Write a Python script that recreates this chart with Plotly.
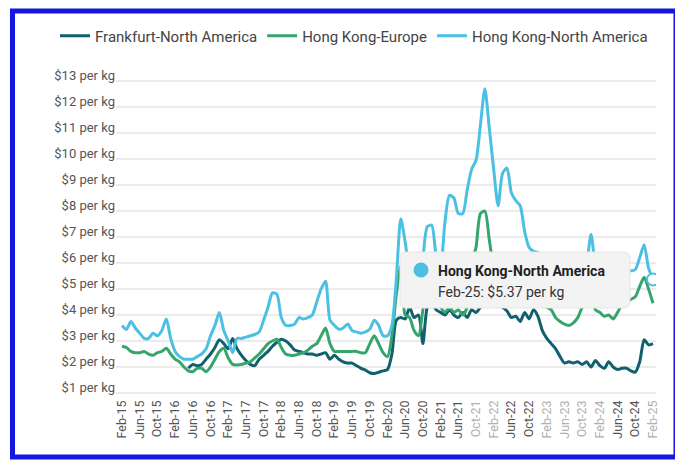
import plotly.graph_objects as go

# ---- categories (monthly, Feb-15 .. Feb-25) ----
MONTHS = ["Jan", "Feb", "Mar", "Apr", "May", "Jun", "Jul", "Aug", "Sep", "Oct", "Nov", "Dec"]
months = []
for yr in range(2015, 2026):
    for mi, mn in enumerate(MONTHS):
        if (yr == 2015 and mi < 1) or (yr == 2025 and mi > 1):
            continue
        months.append(f"{mn}-{yr % 100:02d}")

# ---- series values ($ per kg) ----
frankfurt_na = [None] * 15 + [
    1.95, 2.1, 2.05, 2.1, 2.3, 2.5, 2.75, 3.05, 2.9,            # May-16 .. Jan-17
    2.7, 3.1, 2.7, 2.45, 2.25, 2.1, 2.05, 2.3, 2.45, 2.6, 2.8, 2.95,   # 2017
    3.07, 3.0, 2.85, 2.65, 2.6, 2.55, 2.5, 2.5, 2.45, 2.5, 2.55, 2.3,  # 2018
    2.45, 2.3, 2.2, 2.15, 2.15, 2.05, 1.95, 1.88, 1.78, 1.75, 1.8, 1.85,  # 2019
    1.9, 2.5, 3.8, 3.9, 3.85, 4.3, 3.9, 4.0, 2.9, 4.3, 4.5, 4.2,       # 2020
    4.1, 4.0, 4.2, 4.0, 3.9, 4.1, 3.9, 4.2, 4.1, 4.3, 4.5, 4.6,        # 2021
    4.5, 4.4, 4.3, 4.15, 3.9, 3.95, 3.75, 4.1, 3.85, 4.2, 3.95, 3.4,   # 2022
    3.1, 2.9, 2.7, 2.4, 2.15, 2.2, 2.15, 2.2, 2.1, 2.2, 2.0, 2.25,     # 2023
    2.05, 1.95, 2.2, 2.0, 1.9, 1.95, 1.95, 1.85, 1.8, 2.2, 3.05, 2.85,  # 2024
    2.9,                                                               # Feb-25
]

hongkong_europe = [
    2.8, 2.75, 2.6, 2.55, 2.55, 2.6, 2.5, 2.45, 2.55, 2.6, 2.72,       # Feb-15 .. Dec-15
    2.5, 2.3, 2.2, 2.0, 1.85, 1.82, 1.95, 1.95, 1.82, 2.0, 2.3, 2.6,   # 2016
    2.72, 2.35, 2.1, 2.08, 2.1, 2.15, 2.2, 2.35, 2.5, 2.7, 2.9, 3.0,   # 2017
    3.07, 2.75, 2.5, 2.45, 2.45, 2.5, 2.55, 2.65, 2.8, 2.9, 3.2, 3.5,  # 2018
    2.9, 2.6, 2.6, 2.6, 2.6, 2.6, 2.6, 2.55, 2.55, 2.9, 3.2, 2.9,      # 2019
    2.55, 2.4, 3.2, 4.8, 5.9, 4.0, 3.9, 3.4, 3.2, 4.2, 5.2, 5.0,       # 2020
    4.6, 4.3, 4.1, 4.3, 4.1, 4.2, 4.0, 4.3, 6.0, 6.6, 7.9, 8.0,        # 2021
    6.9, 5.8, 5.2, 4.8, 4.6, 4.8, 4.7, 4.7, 4.6, 4.5, 4.4, 4.5,        # 2022
    4.4, 4.3, 4.2, 3.9, 3.75, 3.65, 3.6, 3.7, 3.9, 4.3, 4.6, 4.8,      # 2023
    4.2, 4.1, 3.95, 4.0, 3.85, 4.1, 4.4, 4.5, 4.6, 4.7, 5.1, 5.45,     # 2024
    5.0, 4.45,                                                         # 2025
]

hongkong_na = [
    3.6, 3.45, 3.75, 3.5, 3.3, 3.1, 3.1, 3.3, 3.2, 3.4, 3.85,          # Feb-15 .. Dec-15
    3.1, 2.6, 2.4, 2.3, 2.3, 2.3, 2.4, 2.5, 2.7, 3.2, 3.6, 4.1,        # 2016
    3.4, 3.0, 2.55, 3.1, 3.1, 3.15, 3.2, 3.25, 3.35, 3.8, 4.3, 4.85,   # 2017
    4.8, 3.9, 3.6, 3.6, 3.65, 3.9, 3.85, 3.9, 4.0, 4.5, 5.0, 5.3,      # 2018
    3.8, 3.6, 3.45, 3.5, 3.65, 3.4, 3.35, 3.3, 3.35, 3.45, 3.8, 3.6,   # 2019
    3.2, 3.2, 3.6, 5.4, 7.7, 6.8, 5.6, 5.0, 5.3, 6.2, 7.4, 7.45,       # 2020
    6.3, 6.0, 7.6, 8.6, 8.5, 7.9, 7.9, 8.8, 9.6, 9.95, 11.3, 12.7,     # 2021
    11.2, 9.6, 8.2, 9.45, 9.65, 8.7, 8.4, 8.2, 7.2, 6.6, 6.45, 6.4,    # 2022
    6.2, 5.8, 5.6, 5.5, 5.4, 5.3, 5.3, 5.4, 5.5, 5.6, 6.0, 7.1,        # 2023
    5.9, 5.5, 5.6, 5.5, 5.6, 5.7, 5.8, 5.8, 5.7, 5.75, 6.2, 6.7,       # 2024
    5.8, 5.37,                                                         # 2025
]

series_names = ["Frankfurt-North America", "Hong Kong-Europe", "Hong Kong-North America"]
series_values = [frankfurt_na, hongkong_europe, hongkong_na]
series_colors = ["#10606e", "#36a56b", "#4cc0e2"]

tick_labels = months[::4]
faded_ticks = ["Oct-21", "Feb-22", "Feb-23", "Jun-23", "Oct-23", "Feb-24", "Feb-25"]
tick_text = [
    f'<span style="color:#b0b0b0">{t}</span>' if t in faded_ticks else t
    for t in tick_labels
]

tooltip_series = "Hong Kong-North America"
tooltip_label = f"{months[-1]}: ${hongkong_na[-1]:.2f} per kg"

FONT = "Roboto, Arial, sans-serif"

fig = go.Figure()
for name, vals, col in zip(series_names, series_values, series_colors):
    fig.add_trace(go.Scatter(
        x=months, y=vals, name=name, mode="lines",
        line=dict(color=col, width=3, shape="spline", smoothing=0.7),
        connectgaps=False, hoverinfo="skip",
    ))

# highlighted (hovered) point
fig.add_trace(go.Scatter(
    x=[months[-1]], y=[hongkong_na[-1]], mode="markers", showlegend=False,
    marker=dict(size=12, color="white", line=dict(color=series_colors[2], width=2)),
    hoverinfo="skip",
))

# page body has an 8px default margin -> figure is offset by 8px
OFF = 8
W, H = 683 - OFF, 461 - OFF
PL, PR, PT, PB = 116, 656, 75, 397          # plot area in page pixels
L, R, T, B = PL - OFF, 683 - PR, PT - OFF, 461 - PB
pw, ph = PR - PL, PB - PT

def px_x(p):
    return (p - PL) / pw

def px_y(p):
    return (PB - p) / ph

# tooltip box (rounded rect, pixel-sized, anchored in paper coords)
bx0, by0, bw, bh, r = 400, 252, 230, 56, 6
path = (f"M {r},0 H {bw - r} Q {bw},0 {bw},{r} V {bh - r} Q {bw},{bh} {bw - r},{bh} "
        f"H {r} Q 0,{bh} 0,{bh - r} V {r} Q 0,0 {r},0 Z")
shapes = [
    dict(type="path", xref="paper", yref="paper", xsizemode="pixel", ysizemode="pixel",
         xanchor=px_x(bx0), yanchor=px_y(by0 + bh), path=path,
         fillcolor="#f3f3f3", line=dict(color="#e4e4e4", width=1), layer="above"),
    dict(type="circle", xref="paper", yref="paper", xsizemode="pixel", ysizemode="pixel",
         xanchor=px_x(421), yanchor=px_y(270), x0=-7.5, x1=7.5, y0=-7.5, y1=7.5,
         fillcolor=series_colors[2], line=dict(width=0), layer="above"),
    # blue outer frame
    dict(type="rect", xref="paper", yref="paper",
         x0=px_x(12.5), x1=px_x(676), y0=px_y(457), y1=px_y(11),
         line=dict(color="#1616e2", width=5), fillcolor="rgba(0,0,0,0)", layer="above"),
]

annotations = [
    dict(xref="paper", yref="paper", x=px_x(436), y=px_y(271), xanchor="left", yanchor="middle",
         text=f"<b>{tooltip_series}</b>", showarrow=False,
         font=dict(family=FONT, size=14, color="#1f1f1f")),
    dict(xref="paper", yref="paper", x=px_x(436), y=px_y(292), xanchor="left", yanchor="middle",
         text=tooltip_label, showarrow=False,
         font=dict(family=FONT, size=14, color="#333333")),
]

fig.update_layout(
    width=W, height=H,
    margin=dict(l=L, r=R, t=T, b=B, pad=0, autoexpand=False),
    paper_bgcolor="white", plot_bgcolor="white",
    font=dict(family=FONT, color="#555555"),
    showlegend=True,
    legend=dict(orientation="h", xref="paper", yref="paper",
                x=px_x(55), xanchor="left", y=px_y(36), yanchor="middle",
                font=dict(family=FONT, size=15, color="#444444"),
                bgcolor="rgba(0,0,0,0)", itemwidth=30, tracegroupgap=0),
    hovermode=False,
    shapes=shapes,
    annotations=annotations,
    xaxis=dict(
        type="category", range=[-1.36, len(months) - 1 + 0.68], automargin=False,
        tickmode="array", tickvals=tick_labels, ticktext=tick_text,
        tickangle=-90, showgrid=False, showline=False, zeroline=False, ticks="",
        tickfont=dict(family=FONT, size=12.5, color="#555555"),
    ),
    yaxis=dict(
        range=[1 - 4 / 26, 13 + 6 / 26], tick0=1, dtick=1, automargin=False,
        tickprefix="$", ticksuffix=" per kg",
        showgrid=True, gridcolor="#ebebeb", gridwidth=1.5,
        zeroline=False, showline=False, ticks="",
        ticklabelshift=-6,
        tickfont=dict(family=FONT, size=13, color="#555555"),
    ),
)

fig.write_html("out.html")
